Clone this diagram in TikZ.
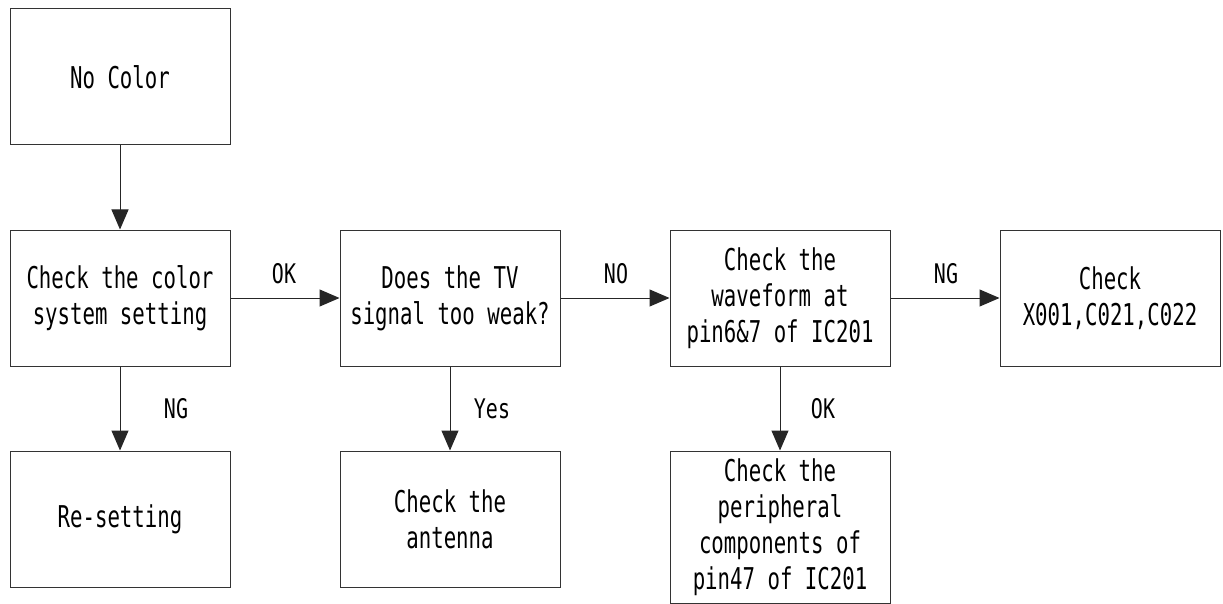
\documentclass[tikz,border=0pt]{standalone}
\usepackage{fontspec}
\usetikzlibrary{arrows.meta}
\newfontfamily\boxfont[FakeStretch=0.69]{DejaVu Sans Mono}
\newfontfamily\labfont[FakeStretch=0.74]{DejaVu Sans Mono}
\begin{document}
\begin{tikzpicture}[x=1pt,y=-1pt,
  box/.style={draw=black!80, line width=1pt, minimum width=220pt, minimum height=136pt,
    inner sep=0pt, align=center, font=\boxfont\fontsize{30}{36}\selectfont},
  lab/.style={inner sep=0pt, font=\labfont\fontsize{27}{30}\selectfont},
  conn/.style={draw=black!85, line width=1pt, -{Triangle[length=20pt,width=17pt]}}]
\useasboundingbox (0,0) rectangle (1223,604);
\node[box] (nocolor) at (120,77) {No Color};
\node[box] (check) at (120,298) {Check the color\\system setting};
\node[box] (weak) at (450,298) {Does the TV\\signal too weak?};
\node[box] (wave) at (780,298) {Check the\\waveform at\\pin6\&7 of IC201};
\node[box] (xtal) at (1110,298) {Check\\X001,C021,C022};
\node[box] (reset) at (120,519) {Re-setting};
\node[box] (ant) at (450,519) {Check the\\antenna};
\node[box, minimum height=152pt] (peri) at (780,527) {Check the\\peripheral\\components of\\pin47 of IC201};
\draw[conn] (nocolor) -- (check);
\draw[conn] (check) -- (weak);
\draw[conn] (weak) -- (wave);
\draw[conn] (wave) -- (xtal);
\draw[conn] (check) -- (reset);
\draw[conn] (weak) -- (ant);
\draw[conn] (wave.south) -- (peri.north);
\node[lab] (lok) at (284,274) {OK};
\node[lab] (lno) at (616,274) {NO};
\node[lab] (lng) at (946,274) {NG};
\node[lab] (lng2) at (176,409) {NG};
\node[lab] (lyes) at (492,409) {Yes};
\node[lab] (lok2) at (823,409) {OK};
\end{tikzpicture}
\end{document}
